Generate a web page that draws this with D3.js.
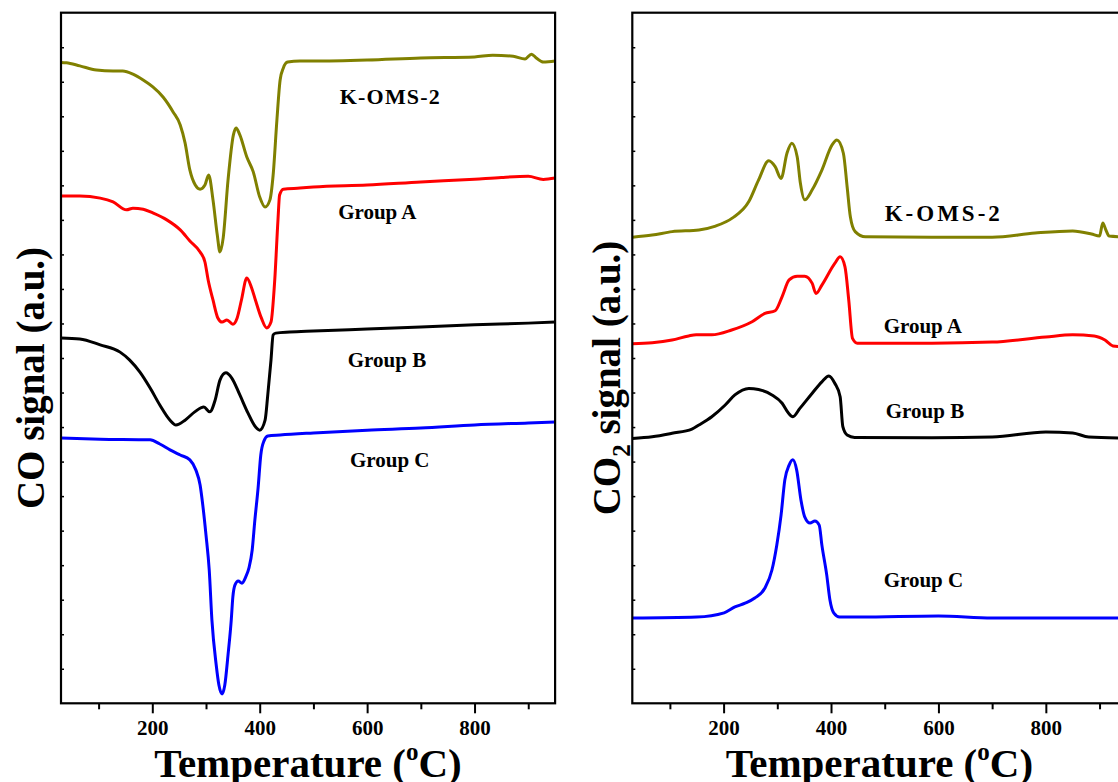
<!DOCTYPE html>
<html>
<head>
<meta charset="utf-8">
<script src="https://cdn.jsdelivr.net/npm/d3@7"></script>
<style>
  body { margin: 0; background: #fff; }
  svg { display: block; }
  text { font-family: "Liberation Serif", "Times New Roman", serif; font-weight: bold; fill: #000; }
</style>
</head>
<body>
<svg id="chart" width="1118" height="782"></svg>
<script>

/*********************/
/*** DATA (T, a.u.) ***/
/*********************/

// CO signal panel
var coKOMS = [[30,18.56],[40,18.55],[65,18.46],[96,18.34],[127,18.31],[145,18.31],[164,18.22],[183,18.05],[201,17.85],[220,17.56],[239,17.12],[252,16.75],[261,16.23],[270,15.44],[280,15.01],[289,14.89],[298,15.01],[305,15.30],[313,14.58],[321,13.56],[326,13.07],[332,13.48],[341,15.15],[351,16.46],[356,16.66],[363,16.46],[376,15.82],[388,15.39],[400,14.66],[410,14.37],[419,14.58],[425,15.30],[432,16.89],[438,18.05],[444,18.40],[452,18.57],[475,18.60],[500,18.60],[600,18.63],[700,18.69],[800,18.72],[834,18.77],[872,18.74],[894,18.66],[906,18.80],[915,18.69],[928,18.57],[950,18.60]];
var coGroupA = [[30,14.69],[65,14.69],[103,14.63],[127,14.52],[152,14.29],[164,14.34],[183,14.31],[201,14.20],[227,14.00],[252,13.71],[270,13.39],[289,13.07],[298,12.78],[304,12.26],[313,11.68],[322,11.16],[330,11.04],[339,11.10],[350,10.98],[358,11.16],[366,11.68],[376,12.32],[385,12.03],[392,11.68],[403,11.16],[413,10.87],[421,11.04],[428,12.26],[434,14.00],[437,14.72],[444,14.89],[475,14.92],[500,14.95],[600,15.01],[700,15.10],[800,15.18],[850,15.23],[900,15.26],[928,15.17],[950,15.21]];
var coGroupB = [[30,10.58],[65,10.55],[103,10.38],[140,10.17],[158,9.94],[177,9.59],[196,9.13],[214,8.64],[233,8.20],[244,8.06],[261,8.20],[279,8.44],[296,8.58],[307,8.44],[317,8.78],[326,9.36],[337,9.57],[348,9.42],[363,8.93],[378,8.41],[391,8.03],[400,7.91],[410,8.20],[415,8.93],[421,9.94],[425,10.67],[430,10.72],[456,10.75],[500,10.78],[600,10.84],[700,10.90],[800,10.96],[900,11.01],[950,11.04]];
var coGroupC = [[30,7.68],[103,7.65],[196,7.63],[214,7.51],[233,7.34],[252,7.19],[270,7.05],[281,6.76],[289,6.32],[294,5.74],[300,4.87],[306,3.86],[311,2.41],[319,1.11],[324,0.53],[330,0.27],[335,0.53],[341,1.40],[347,2.41],[350,3.08],[354,3.43],[360,3.54],[367,3.48],[374,3.66],[380,3.92],[386,4.44],[391,5.31],[397,6.24],[402,7.19],[408,7.60],[415,7.74],[438,7.77],[500,7.83],[600,7.91],[700,7.97],[800,8.06],[900,8.12],[950,8.15]];

// CO2 signal panel
var co2KOMS = [[30,13.50],[67,13.56],[104,13.66],[154,13.71],[185,13.82],[216,14.05],[247,14.53],[265,15.15],[284,15.71],[296,15.54],[307,15.20],[318,15.93],[327,16.22],[337,15.83],[343,15.06],[351,14.58],[365,14.87],[383,15.44],[402,16.17],[411,16.31],[423,15.93],[430,14.96],[436,14.09],[445,13.66],[464,13.51],[588,13.50],[700,13.50],[780,13.62],[850,13.68],[885,13.59],[900,13.53],[906,13.91],[912,13.70],[918,13.53],[950,13.50]];
var co2GroupA = [[30,10.41],[67,10.44],[104,10.52],[135,10.64],[149,10.67],[178,10.67],[215,10.81],[253,11.05],[277,11.29],[296,11.37],[309,11.78],[322,12.26],[337,12.37],[351,12.37],[365,12.16],[372,11.87],[383,12.11],[407,12.74],[417,12.93],[426,12.64],[433,11.68],[440,10.57],[449,10.43],[588,10.43],[700,10.46],[800,10.61],[850,10.67],[890,10.64],[910,10.52],[925,10.35],[950,10.32]];
var co2GroupB = [[30,7.67],[67,7.72],[104,7.82],[141,7.94],[154,8.06],[178,8.30],[203,8.64],[221,8.93],[247,9.12],[265,9.09],[290,8.93],[309,8.69],[321,8.40],[329,8.30],[342,8.54],[365,8.98],[383,9.31],[396,9.48],[407,9.27],[417,8.88],[422,8.01],[430,7.77],[444,7.70],[588,7.69],[700,7.71],[800,7.86],[850,7.83],[880,7.71],[950,7.68]];
var co2GroupC = [[30,2.47],[150,2.50],[201,2.62],[221,2.79],[240,2.90],[258,3.05],[277,3.34],[290,3.86],[299,4.58],[307,5.45],[314,6.47],[322,6.90],[329,7.05],[336,6.76],[344,5.89],[351,5.40],[361,5.22],[370,5.28],[378,5.16],[383,4.58],[392,3.72],[398,2.99],[405,2.62],[416,2.50],[453,2.50],[600,2.53],[700,2.47],[800,2.47],[950,2.47]];

var seriesNames = ["K-OMS-2", "Group A", "Group B", "Group C"];
var seriesColors = ["#808000", "#ff0000", "#000000", "#0000ff"];

// label anchors (temperature, signal)
var coLabels  = [[549,17.36],[546,14.02],[564,9.74],[568,6.84]];
var co2Labels = [[500,13.97],[498,10.72],[502,8.26],[498,3.37]];

var xMajorTicks = [200, 400, 600, 800];
var xMinorTicks = [100, 300, 500, 700, 900];
var yMinorTicks = d3.range(1, 20);

/*********************/
/*** INIT VARIABLE ***/
/*********************/

var svg = d3.select("#chart");

var top_y = 12.7, bottom_y = 703.3;

var y = d3.scaleLinear().domain([0, 20]).range([bottom_y, top_y]);

/********************************/
/*** DECLARE HELPER FUNCTIONS ***/
/********************************/

// kSize / kSpacing: font size and letter spacing of the K-OMS-2 label
function drawPanel(x0, x1, series, labels, id, kSize, kSpacing) {
    var x = d3.scaleLinear().domain([30, 950]).range([x0, x1]);
    var g = svg.append("g");

    g.append("clipPath").attr("id", "clip" + id)
        .append("rect")
        .attr("x", x0).attr("y", top_y)
        .attr("width", x1 - x0).attr("height", bottom_y - top_y);

    var line = d3.line()
        .x(function(d) { return x(d[0]); })
        .y(function(d) { return y(d[1]); })
        .curve(d3.curveMonotoneX);

    series.forEach(function(s, i) {
        g.append("path")
            .attr("d", line(s))
            .attr("clip-path", "url(#clip" + id + ")")
            .attr("fill", "none")
            .attr("stroke", seriesColors[i])
            .attr("stroke-width", 3)
            .attr("stroke-linejoin", "round");
    });

    // x axis, major then minor
    var xa = g.append("g").attr("transform", "translate(0," + bottom_y + ")")
        .call(d3.axisBottom(x).tickValues(xMajorTicks).tickSize(10).tickPadding(7).tickFormat(d3.format("d")));
    xa.select(".domain").remove();
    xa.selectAll("line").attr("stroke-width", 2);
    xa.selectAll("text").attr("font-size", 21).attr("font-family", null);

    var xm = g.append("g").attr("transform", "translate(0," + bottom_y + ")")
        .call(d3.axisBottom(x).tickValues(xMinorTicks).tickSize(6).tickFormat(""));
    xm.select(".domain").remove();
    xm.selectAll("line").attr("stroke-width", 2);

    // y axis minor ticks, pointing in
    var ya = g.append("g").attr("transform", "translate(" + x0 + ",0)")
        .call(d3.axisLeft(y).tickValues(yMinorTicks).tickSize(-3).tickFormat(""));
    ya.select(".domain").remove();
    ya.selectAll("line").attr("stroke-width", 1.5);

    // frame
    g.append("rect")
        .attr("x", x0).attr("y", top_y)
        .attr("width", x1 - x0).attr("height", bottom_y - top_y)
        .attr("fill", "none").attr("stroke", "#000").attr("stroke-width", 2.2);

    // series labels
    labels.forEach(function(l, i) {
        g.append("text")
            .attr("x", x(l[0])).attr("y", y(l[1]))
            .attr("font-size", i === 0 ? kSize : 21)
            .attr("letter-spacing", i === 0 ? kSpacing : 0)
            .text(seriesNames[i]);
    });

    // x title
    var t = g.append("text")
        .attr("x", (x0 + x1) / 2).attr("y", 777)
        .attr("text-anchor", "middle")
        .attr("font-size", 41);
    t.append("tspan").text("Temperature (");
    t.append("tspan").attr("font-size", 25).attr("dy", -17).text("o");
    t.append("tspan").attr("dy", 17).text("C)");

    return g;
}

/******************/
/*** INIT PLOTS ***/
/******************/

drawPanel(61, 555.1, [coKOMS, coGroupA, coGroupB, coGroupC], coLabels, "L", 22, 1.2);
drawPanel(632.3, 1126.4, [co2KOMS, co2GroupA, co2GroupB, co2GroupC], co2Labels, "R", 23, 3);

// y titles
svg.append("text")
    .attr("transform", "translate(44,378) rotate(-90)")
    .attr("text-anchor", "middle")
    .attr("font-size", 39)
    .text("CO signal (a.u.)");

var yt = svg.append("text")
    .attr("transform", "translate(620,378) rotate(-90)")
    .attr("text-anchor", "middle")
    .attr("font-size", 39);
yt.append("tspan").text("CO");
yt.append("tspan").attr("font-size", 25).attr("dy", 10).text("2");
yt.append("tspan").attr("dy", -10).text(" signal (a.u.)");

</script>
</body>
</html>
